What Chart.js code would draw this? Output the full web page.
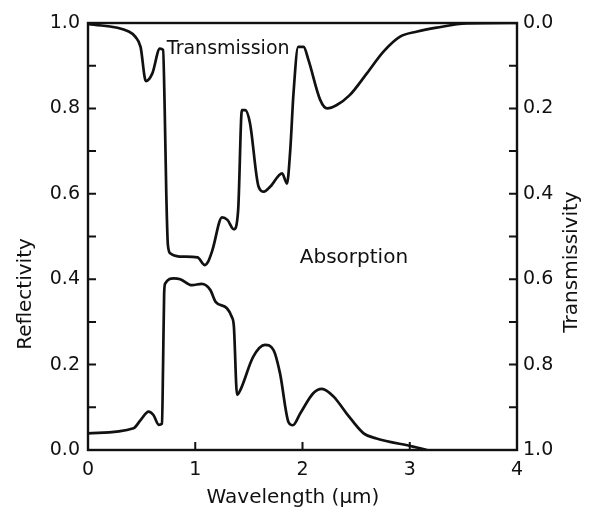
<!DOCTYPE html>
<html>
<head>
<meta charset="utf-8">
<script src="https://cdn.jsdelivr.net/npm/chart.js@4"></script>
<style>
  body { margin: 0; background: #fff; }
  #wrap { width: 591px; height: 512px; }
</style>
</head>
<body>
<div id="wrap"><canvas id="chart" width="591" height="512"></canvas></div>
<script>
// transmission curve (read on the right, reversed transmissivity axis)
const transWl = [0, 0.38, 0.44, 0.49, 0.54, 0.6, 0.67, 0.70, 0.715, 0.73, 0.745, 0.77, 0.86, 1.02, 1.09, 1.12, 1.16, 1.25, 1.30, 1.36, 1.40, 1.435, 1.466, 1.51, 1.59, 1.64, 1.70, 1.81, 1.855, 1.886, 1.916, 1.96, 2.01, 2.056, 2.165, 2.23, 2.32, 2.44, 2.60, 2.755, 2.91, 3.07, 3.25, 3.53, 4.0];
const transVals = [0.002, 0.02, 0.032, 0.056, 0.136, 0.118, 0.06, 0.063, 0.2, 0.4, 0.52, 0.54, 0.547, 0.549, 0.567, 0.559, 0.532, 0.455, 0.461, 0.483, 0.438, 0.204, 0.204, 0.234, 0.383, 0.395, 0.383, 0.352, 0.376, 0.297, 0.165, 0.056, 0.056, 0.087, 0.18, 0.2, 0.192, 0.169, 0.118, 0.067, 0.032, 0.02, 0.011, 0.001, 0];

// reflectivity curve (left axis)
const reflWl = [0, 0.425, 0.49, 0.565, 0.61, 0.66, 0.69, 0.70, 0.71, 0.72, 0.80, 0.86, 0.97, 1.06, 1.14, 1.19, 1.295, 1.34, 1.36, 1.39, 1.42, 1.54, 1.65, 1.73, 1.79, 1.87, 1.91, 1.98, 2.10, 2.18, 2.29, 2.41, 2.57, 2.69, 3.03, 3.16];
const reflVals = [0.039, 0.051, 0.07, 0.09, 0.082, 0.059, 0.062, 0.2, 0.367, 0.39, 0.402, 0.40, 0.386, 0.389, 0.375, 0.347, 0.332, 0.312, 0.29, 0.129, 0.14, 0.218, 0.246, 0.234, 0.18, 0.065, 0.058, 0.086, 0.133, 0.143, 0.125, 0.086, 0.039, 0.027, 0.008, 0];

const xTicks = [0, 1, 2, 3, 4];
const yLabels = ["0.0", "0.2", "0.4", "0.6", "0.8", "1.0"];

const FONT = "DejaVu Sans";
const INK = "#111";

function toPoints(xs, ys) {
  return xs.map((x, i) => ({ x: x, y: ys[i] }));
}

function tickLabel(v) {
  const r = Math.round(v * 10);
  if (r % 2 !== 0) return "";
  return yLabels[r / 2];
}

const frame = {
  id: "frame",
  afterDraw(chart) {
    const { ctx, chartArea: a, scales } = chart;
    ctx.save();
    ctx.strokeStyle = INK;
    ctx.lineWidth = 2.4;
    ctx.strokeRect(a.left, a.top, a.right - a.left, a.bottom - a.top);

    ctx.lineWidth = 2;
    ctx.beginPath();
    for (let i = 1; i < 10; i++) {
      const p = scales.y.getPixelForValue(i / 10);
      ctx.moveTo(a.left, p); ctx.lineTo(a.left + 8, p);
      const q = scales.y2.getPixelForValue(i / 10);
      ctx.moveTo(a.right, q); ctx.lineTo(a.right - 8, q);
    }
    xTicks.slice(1, -1).forEach(v => {
      const p = scales.x.getPixelForValue(v);
      ctx.moveTo(p, a.bottom); ctx.lineTo(p, a.bottom - 8);
    });
    ctx.stroke();

    ctx.fillStyle = INK;
    ctx.font = "20px " + FONT;
    ctx.textAlign = "center";
    ctx.textBaseline = "middle";
    ctx.fillText("Wavelength (\u03bcm)", 293, 498);

    ctx.save();
    ctx.translate(26, 294);
    ctx.rotate(-Math.PI / 2);
    ctx.fillText("Reflectivity", 0, 0);
    ctx.restore();

    ctx.save();
    ctx.translate(572, 262);
    ctx.rotate(-Math.PI / 2);
    ctx.fillText("Transmissivity", 0, 0);
    ctx.restore();

    ctx.textAlign = "left";
    ctx.font = "19px " + FONT;
    ctx.fillText("Transmission", scales.x.getPixelForValue(0.735), scales.y.getPixelForValue(0.94));
    ctx.font = "20px " + FONT;
    ctx.fillText("Absorption", scales.x.getPixelForValue(1.975), scales.y.getPixelForValue(0.45));
    ctx.restore();
  }
};

new Chart(document.getElementById("chart"), {
  type: "line",
  data: {
    datasets: [
      {
        label: "Transmission",
        data: toPoints(transWl, transVals),
        yAxisID: "y2",
        borderColor: INK,
        borderWidth: 2.7,
        pointRadius: 0,
        cubicInterpolationMode: "monotone"
      },
      {
        label: "Reflectivity",
        data: toPoints(reflWl, reflVals),
        yAxisID: "y",
        borderColor: INK,
        borderWidth: 2.7,
        pointRadius: 0,
        cubicInterpolationMode: "monotone"
      }
    ]
  },
  options: {
    responsive: false,
    animation: false,
    layout: { padding: { top: 23, left: 0, right: 0, bottom: 0 } },
    plugins: { legend: { display: false }, tooltip: { enabled: false } },
    scales: {
      x: {
        type: "linear",
        min: 0,
        max: 4,
        afterFit: s => { s.height = 62; },
        afterBuildTicks: s => { s.ticks = xTicks.map(v => ({ value: v })); },
        ticks: { stepSize: 1, padding: 9, color: INK, font: { family: FONT, size: 19 } },
        grid: { drawOnChartArea: false, drawTicks: false },
        border: { display: false }
      },
      y: {
        position: "left",
        min: 0,
        max: 1,
        afterFit: s => { s.width = 88; },
        ticks: { stepSize: 0.2, padding: 8, color: INK, font: { family: FONT, size: 19 }, callback: tickLabel },
        grid: { drawOnChartArea: false, drawTicks: false },
        border: { display: false }
      },
      y2: {
        position: "right",
        min: 0,
        max: 1,
        reverse: true,
        afterFit: s => { s.width = 74; },
        ticks: { stepSize: 0.2, padding: 6, color: INK, font: { family: FONT, size: 19 }, callback: tickLabel },
        grid: { drawOnChartArea: false, drawTicks: false },
        border: { display: false }
      }
    }
  },
  plugins: [frame]
});
</script>
</body>
</html>
